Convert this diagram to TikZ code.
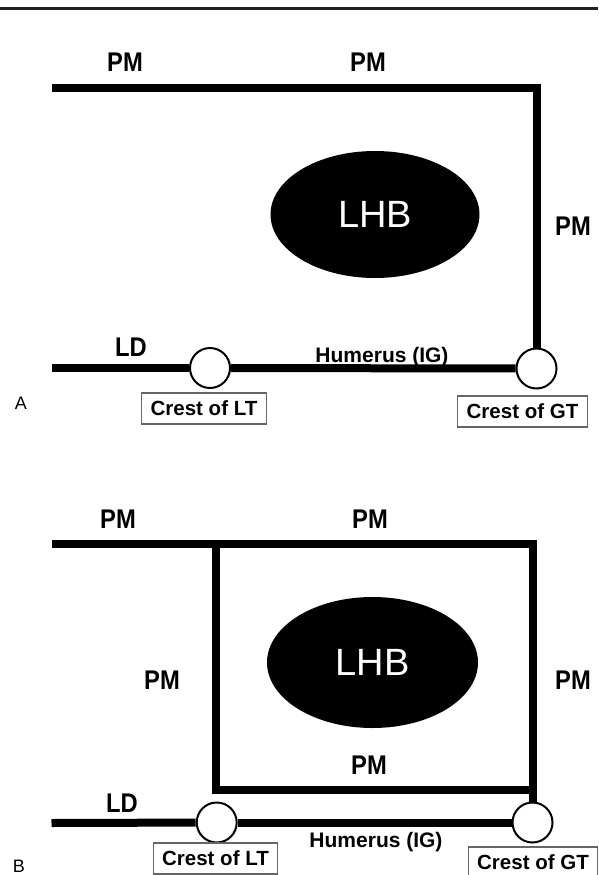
\documentclass[tikz,border=0pt]{standalone}
\usepackage{fontspec}
\setmainfont{Liberation Sans}
\newfontfamily\pmfont{Liberation Sans}[FakeStretch=0.88]
\usetikzlibrary{shapes.geometric}
\begin{document}
\begin{tikzpicture}[x=1pt,y=-1pt,
  bar/.style={line width=8pt, line join=miter},
  joint/.style={circle, draw=black, line width=2pt, fill=white, minimum size=40pt, inner sep=0pt},
  lbl/.style={font=\pmfont\bfseries\fontsize{27}{27}\selectfont, inner sep=0pt, anchor=base},
  small/.style={font=\bfseries\fontsize{21}{21}\selectfont, inner sep=0pt, anchor=base},
  crest/.style={draw=black!60, line width=1.3pt, font=\bfseries\fontsize{20.5}{20.5}\selectfont, minimum height=31pt, inner xsep=9pt, inner ysep=0pt},
  lhb/.style={ellipse, fill=black, text=white, font=\fontsize{38}{38}\selectfont, inner sep=0pt},
  panel/.style={font=\fontsize{18}{18}\selectfont, inner sep=0pt, anchor=base}]
\fill[white] (0,0) rectangle (598,875);
\clip (0,0) rectangle (598,875);
% top rule
\coordinate (r0) at (0,8.7);
\coordinate (r1) at (598,8.7);
\draw[line width=3pt, black!87] (r0) -- (r1);

% ---------- Panel A ----------
\node[lhb, minimum width=209pt, minimum height=127pt] (lhbA) at (375,214.5) {LHB};
\node[joint] (ltA) at (210,368) {};
\node[joint] (gtA) at (536.5,368.5) {};
\coordinate (a0) at (51.5,87.5);
\coordinate (a1) at (536.5,87.5);
\coordinate (a2) at (51.5,368);
\draw[bar] (a0) -- (a1) -- (gtA);
\draw[bar] (a2) -- (ltA);
\draw[bar] (ltA) -- (gtA);
\node[lbl] (pmA1) at (125,71.7) {PM};
\node[lbl] (pmA2) at (368,71.7) {PM};
\node[lbl] (pmA3) at (573,235) {PM};
\node[lbl] (ldA) at (131,356) {LD};
\node[small] (humA) at (382,362) {Humerus (IG)};
\node[panel] (labA) at (21,409) {A};
\node[crest] (cltA) at (204,408.5) {Crest of LT};
\node[crest] (cgtA) at (522.5,411.5) {Crest of GT};

% ---------- Panel B ----------
\node[lhb, minimum width=211pt, minimum height=131pt] (lhbB) at (372.5,662.5) {LHB};
\node[joint] (ltB) at (216.7,822.5) {};
\node[joint] (gtB) at (532.5,822.5) {};
\coordinate (b0) at (51.5,543.5);
\coordinate (b1) at (532.5,543.5);
\coordinate (bi0) at (216,543.5);
\coordinate (bi1) at (216,790);
\coordinate (bi2) at (532.5,790);
\coordinate (b2) at (51.5,823);
\draw[bar] (b0) -- (b1) -- (gtB);
\draw[bar] (bi0) -- (bi1) -- (bi2);
\draw[bar] (b2) -- (ltB);
\draw[bar] (ltB) -- (gtB);
\node[lbl] (pmB1) at (118,528) {PM};
\node[lbl] (pmB2) at (370,528) {PM};
\node[lbl] (pmB3) at (162,689) {PM};
\node[lbl] (pmB4) at (573,689) {PM};
\node[lbl] (pmB5) at (369,774) {PM};
\node[lbl] (ldB) at (122,812) {LD};
\node[small] (humB) at (376,847) {Humerus (IG)};
\node[panel] (labB) at (19,872) {B};
\node[crest] (cltB) at (215.5,858.5) {Crest of LT};
\node[crest] (cgtB) at (533,862.5) {Crest of GT};
\end{tikzpicture}
\end{document}
